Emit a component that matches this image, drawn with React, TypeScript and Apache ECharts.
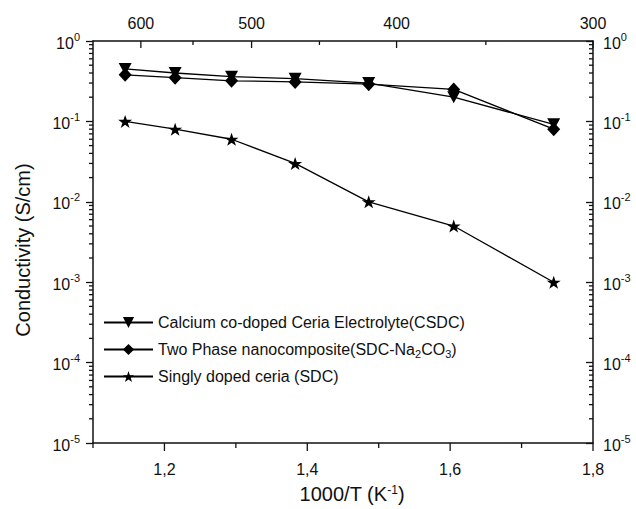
import React, { useEffect, useRef } from "react";
import * as echarts from "echarts";

// 1000/T values (K^-1) of the measurement points
const invT = [1.145, 1.215, 1.294, 1.383, 1.486, 1.605, 1.745];
// Conductivity (S/cm)
const csdc = [0.45, 0.4, 0.36, 0.34, 0.3, 0.2, 0.092];
const nanocomposite = [0.38, 0.35, 0.32, 0.31, 0.29, 0.25, 0.08];
const sdc = [0.1, 0.08, 0.06, 0.03, 0.01, 0.005, 0.001];

const seriesNames = [
  "Calcium co-doped Ceria Electrolyte(CSDC)",
  "Two Phase nanocomposite(SDC-Na2CO3)",
  "Singly doped ceria (SDC)",
];

// bottom axis ticks (1000/T)
const bottomMajorTicks = [1.2, 1.4, 1.6, 1.8];
const bottomMinorTicks = [1.1, 1.3, 1.5, 1.7];
// top axis (temperature, °C) ticks placed on the 1000/T scale
const topTickLabels = ["600", "500", "400", "300"];
const topMajorTicks = [1.167, 1.322, 1.525, 1.8];
const topMinorTicks = [1.24, 1.417, 1.65];
// log-axis minor ticks
const yDecades = [1e-5, 1e-4, 1e-3, 1e-2, 1e-1];
const yMinorMultipliers = [2, 3, 4, 5, 6, 7, 8, 9];

const FONT = "'Liberation Sans', Arial, Helvetica, sans-serif";
const INK = "#111";
const STAR =
  "path://M50,0 L61.8,35.3 L99,35.3 L69.1,57.1 L80.9,92.7 L50,71 L19.1,92.7 L30.9,57.1 L1,35.3 L38.2,35.3 Z";

const yMinorValues: number[] = [];
yDecades.forEach((d) => yMinorMultipliers.forEach((m) => yMinorValues.push(d * m)));

function tickSeries(data: number[][], draw: (p: number[]) => number[]) {
  return {
    type: "custom",
    silent: true,
    clip: false,
    z: 10,
    data,
    renderItem: (_params: any, api: any) => {
      const p = api.coord([api.value(0), api.value(1)]);
      const s = draw(p);
      return {
        type: "line",
        shape: { x1: s[0], y1: s[1], x2: s[2], y2: s[3] },
        style: { stroke: INK, lineWidth: 1.3 },
      };
    },
  };
}

const supRich = {
  b: { fontSize: 16, fontFamily: FONT, color: INK, lineHeight: 20, verticalAlign: "bottom" },
  s: { fontSize: 11, fontFamily: FONT, color: INK, lineHeight: 12, verticalAlign: "top" },
};

function logLabel(v: number) {
  const e = Math.round(Math.log10(v));
  return `{b|10}{s|${e}}`;
}

export default function App() {
  const ref = useRef<HTMLDivElement>(null);
  useEffect(() => {
    if (!ref.current) return;
    const chart = echarts.init(ref.current, undefined, { renderer: "svg" });
    const lineCommon = {
      type: "line",
      lineStyle: { color: "#000", width: 1.3 },
      itemStyle: { color: "#000" },
      emphasis: { disabled: true },
    };
    chart.setOption({
      animation: false,
      backgroundColor: "#fff",
      grid: { left: 93, right: 43, top: 41, bottom: 63, containLabel: false },
      legend: {
        data: seriesNames,
        orient: "vertical",
        left: 103,
        top: 313,
        padding: 0,
        itemWidth: 49,
        itemHeight: 14,
        itemGap: 8,
        selectedMode: false,
        textStyle: {
          fontSize: 16,
          fontFamily: FONT,
          color: INK,
          lineHeight: 19,
          rich: {
            sub: { fontSize: 11, fontFamily: FONT, color: INK, lineHeight: 8, verticalAlign: "bottom" },
          },
        },
        formatter: (name: string) =>
          name === seriesNames[1] ? "Two Phase nanocomposite(SDC-Na{sub|2}CO{sub|3})" : name,
      },
      xAxis: [
        {
          type: "value",
          position: "bottom",
          min: 1.1,
          max: 1.8,
          interval: 0.1,
          axisLine: { show: true, onZero: false, lineStyle: { color: INK, width: 1.5 } },
          axisTick: { show: false },
          splitLine: { show: false },
          axisLabel: {
            margin: 18,
            fontSize: 16,
            fontFamily: FONT,
            color: INK,
            formatter: (v: number) =>
              Math.round(v * 10) % 2 === 0 ? v.toFixed(1).replace(".", ",") : "",
          },
          name: "1000/T (K{sup|-1})",
          nameLocation: "middle",
          nameGap: 41,
          nameTextStyle: {
            fontSize: 20,
            fontFamily: FONT,
            color: INK,
            padding: [0, 0, 0, 18],
            rich: {
              sup: { fontSize: 12, fontFamily: FONT, color: INK, lineHeight: 12, verticalAlign: "top" },
            },
          },
        },
        {
          type: "value",
          position: "top",
          min: 1.1,
          max: 1.8,
          axisLine: { show: true, onZero: false, lineStyle: { color: INK, width: 1.5 } },
          axisTick: { show: false },
          axisLabel: { show: false },
          splitLine: { show: false },
        },
      ],
      yAxis: [
        {
          type: "log",
          logBase: 10,
          min: 1e-5,
          max: 1,
          position: "left",
          axisLine: { show: true, onZero: false, lineStyle: { color: INK, width: 1.5 } },
          axisTick: { show: true, inside: false, length: 7, lineStyle: { color: INK, width: 1.3 } },
          splitLine: { show: false },
          axisLabel: { margin: 13, formatter: logLabel, rich: supRich },
          name: "Conductivity (S/cm)",
          nameLocation: "middle",
          nameGap: 60,
          nameTextStyle: { fontSize: 20, fontFamily: FONT, color: INK, padding: [0, 16, 0, 0] },
        },
        {
          type: "log",
          logBase: 10,
          min: 1e-5,
          max: 1,
          position: "right",
          axisLine: { show: true, onZero: false, lineStyle: { color: INK, width: 1.5 } },
          axisTick: { show: true, inside: true, length: 7, lineStyle: { color: INK, width: 1.3 } },
          splitLine: { show: false },
          axisLabel: { margin: 10, formatter: logLabel, rich: supRich },
        },
      ],
      series: [
        {
          ...lineCommon,
          name: seriesNames[0],
          data: invT.map((x, i) => [x, csdc[i]]),
          symbol: "triangle",
          symbolRotate: 180,
          symbolSize: [13, 12],
          z: 4,
        },
        {
          ...lineCommon,
          name: seriesNames[1],
          data: invT.map((x, i) => [x, nanocomposite[i]]),
          symbol: "diamond",
          symbolSize: [13, 14],
          z: 3,
        },
        {
          ...lineCommon,
          name: seriesNames[2],
          data: invT.map((x, i) => [x, sdc[i]]),
          symbol: STAR,
          symbolSize: [14, 13],
          z: 3,
        },
        // bottom ticks (outward)
        tickSeries(bottomMajorTicks.map((v) => [v, 1e-5]), (p) => [p[0], p[1], p[0], p[1] + 8]),
        tickSeries(bottomMinorTicks.map((v) => [v, 1e-5]), (p) => [p[0], p[1], p[0], p[1] + 5]),
        // top ticks (inward)
        tickSeries(topMajorTicks.map((v) => [v, 1]), (p) => [p[0], p[1], p[0], p[1] + 7]),
        tickSeries(topMinorTicks.map((v) => [v, 1]), (p) => [p[0], p[1], p[0], p[1] + 4]),
        // y minor ticks
        tickSeries(yMinorValues.map((v) => [1.1, v]), (p) => [p[0] - 4, p[1], p[0], p[1]]),
        tickSeries(yMinorValues.map((v) => [1.8, v]), (p) => [p[0] - 4, p[1], p[0], p[1]]),
        // top labels
        {
          type: "custom",
          silent: true,
          clip: false,
          data: topMajorTicks.map((v) => [v, 1]),
          renderItem: (params: any, api: any) => {
            const p = api.coord([api.value(0), api.value(1)]);
            return {
              type: "text",
              x: p[0],
              y: p[1] - 18,
              style: {
                text: topTickLabels[params.dataIndex],
                fontSize: 16,
                fontFamily: FONT,
                fill: INK,
                align: "center",
                verticalAlign: "middle",
              },
            };
          },
        },
      ],
    });
    return () => chart.dispose();
  }, []);
  return (
    <div
      ref={ref}
      style={{ position: "fixed", left: 0, top: 0, width: 636, height: 509, background: "#fff" }}
    />
  );
}
